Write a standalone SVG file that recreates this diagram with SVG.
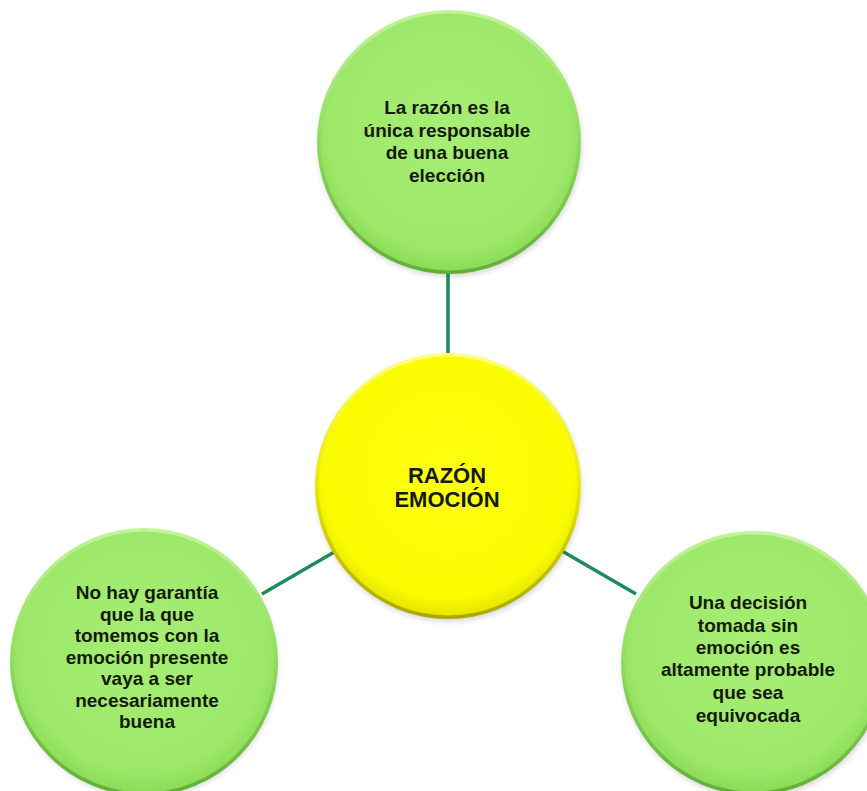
<svg xmlns="http://www.w3.org/2000/svg" width="867" height="791" viewBox="0 0 867 791">
  <defs>
    <style>
      .lbl { font-family: "Liberation Sans", Arial, sans-serif; font-weight: bold; fill: #151a10; text-anchor: middle; }
      .g { font-size: 19px; }
      .c { font-size: 22px; }
      .link { stroke: #1e8c5a; stroke-width: 3.5; fill: none; }
    </style>
    <radialGradient id="greenFill" cx="50%" cy="45%" r="55%">
      <stop offset="0" stop-color="#a6ee74"/>
      <stop offset="0.85" stop-color="#9de86a"/>
      <stop offset="1" stop-color="#8cdc58"/>
    </radialGradient>
    <linearGradient id="greenRim" x1="0" y1="0" x2="0" y2="1">
      <stop offset="0" stop-color="#c2f59a"/>
      <stop offset="0.5" stop-color="#8fdc5c"/>
      <stop offset="1" stop-color="#5fae38"/>
    </linearGradient>
    <radialGradient id="yellowFill" cx="50%" cy="45%" r="55%">
      <stop offset="0" stop-color="#ffff10"/>
      <stop offset="0.88" stop-color="#fbfb00"/>
      <stop offset="1" stop-color="#e6e600"/>
    </radialGradient>
    <linearGradient id="yellowRim" x1="0" y1="0" x2="0" y2="1">
      <stop offset="0" stop-color="#ffff80"/>
      <stop offset="0.5" stop-color="#e8e800"/>
      <stop offset="1" stop-color="#a8a800"/>
    </linearGradient>
    <filter id="soft" x="-20%" y="-20%" width="140%" height="140%">
      <feGaussianBlur stdDeviation="3"/>
    </filter>
  </defs>

  <rect width="867" height="791" fill="#ffffff"/>

  <g id="connectors">
    <line class="link" x1="448" y1="270" x2="448" y2="356"/>
    <line class="link" x1="262" y1="594" x2="336" y2="551"/>
    <line class="link" x1="562" y1="551" x2="636" y2="594"/>
  </g>

  <!-- top node -->
  <g id="node-razon">
    <circle cx="450" cy="145" r="131" fill="#000" opacity="0.18" filter="url(#soft)"/>
    <circle cx="449" cy="142" r="132" fill="url(#greenRim)"/>
    <circle cx="449" cy="142" r="128.5" fill="url(#greenFill)"/>
    <text class="lbl g" x="447" y="114">La razón es la</text>
    <text class="lbl g" x="447" y="136.5">única responsable</text>
    <text class="lbl g" x="447" y="159">de una buena</text>
    <text class="lbl g" x="447" y="181.5">elección</text>
  </g>

  <!-- centre node -->
  <g id="node-centro">
    <circle cx="449" cy="489" r="132" fill="#000" opacity="0.18" filter="url(#soft)"/>
    <circle cx="448" cy="486" r="133" fill="url(#yellowRim)"/>
    <circle cx="448" cy="486" r="129.5" fill="url(#yellowFill)"/>
    <text class="lbl c" x="447" y="483">RAZÓN</text>
    <text class="lbl c" x="447" y="507">EMOCIÓN</text>
  </g>

  <!-- lower left node -->
  <g id="node-emocion-presente">
    <circle cx="145" cy="665" r="132" fill="#000" opacity="0.18" filter="url(#soft)"/>
    <circle cx="144" cy="662" r="134" fill="url(#greenRim)"/>
    <circle cx="144" cy="662" r="130.5" fill="url(#greenFill)"/>
    <text class="lbl g" x="147" y="599">No hay garantía</text>
    <text class="lbl g" x="147" y="620.5">que la que</text>
    <text class="lbl g" x="147" y="642">tomemos con la</text>
    <text class="lbl g" x="147" y="663.5">emoción presente</text>
    <text class="lbl g" x="147" y="685">vaya a ser</text>
    <text class="lbl g" x="147" y="706.5">necesariamente</text>
    <text class="lbl g" x="147" y="728">buena</text>
  </g>

  <!-- lower right node -->
  <g id="node-sin-emocion">
    <circle cx="754" cy="666" r="131" fill="#000" opacity="0.18" filter="url(#soft)"/>
    <circle cx="753" cy="663" r="132" fill="url(#greenRim)"/>
    <circle cx="753" cy="663" r="128.5" fill="url(#greenFill)"/>
    <text class="lbl g" x="748" y="609">Una decisión</text>
    <text class="lbl g" x="748" y="631.5">tomada sin</text>
    <text class="lbl g" x="748" y="654">emoción es</text>
    <text class="lbl g" x="748" y="676">altamente probable</text>
    <text class="lbl g" x="748" y="699">que sea</text>
    <text class="lbl g" x="748" y="721.5">equivocada</text>
  </g>
</svg>
